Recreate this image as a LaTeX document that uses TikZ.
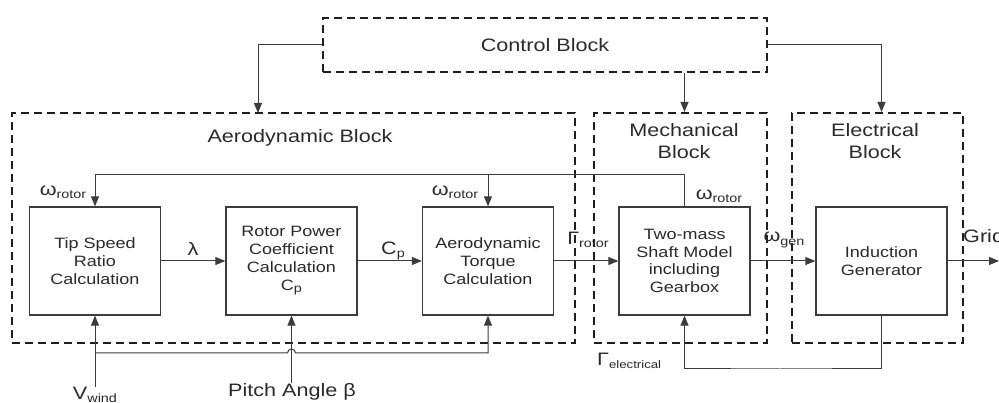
\documentclass[tikz,border=0pt]{standalone}
\usepackage{fontspec}
\setmainfont[FakeStretch=1.2]{Liberation Sans}
\usetikzlibrary{arrows.meta}
\definecolor{ln}{HTML}{3c3c3c}
\definecolor{tx}{HTML}{2a2a2a}
\newcommand{\lsub}[1]{\raisebox{-0.35ex}{\fontsize{12}{12}\selectfont #1}}
\tikzset{
 blk/.style={draw=black!88, line width=2.1pt, dash pattern=on 8pt off 5pt, inner sep=0pt},
 bx/.style={draw=ln, line width=1.3pt, minimum width=131pt, minimum height=108pt, inner sep=0pt, align=center, font=\fontsize{15}{17.7}\selectfont, text=tx},
 wire/.style={draw=ln, line width=1pt},
 arr/.style={wire, -{Triangle[length=10pt,width=8pt]}},
 ttl/.style={font=\fontsize{18}{21.7}\selectfont, text=tx, align=center, inner sep=0pt},
 lbl/.style={font=\fontsize{18}{20}\selectfont, text=tx, inner sep=0pt},
}
\begin{document}
\begin{tikzpicture}[x=1pt,y=-1pt]
\useasboundingbox (0,0) rectangle (999,403);
\clip (0,0) rectangle (999,403);
% dashed blocks
\node[blk, minimum width=444pt, minimum height=54pt] (cb) at (545,45) {};
\node[ttl] (cbt) at (545,45) {Control Block};
\node[blk, minimum width=563pt, minimum height=230pt] (ab) at (293.5,228) {};
\node[ttl] (abt) at (300,138) {Aerodynamic Block};
\node[blk, minimum width=173pt, minimum height=230pt] (mb) at (680.5,228) {};
\node[ttl] (mbt) at (684,141) {Mechanical\\Block};
\node[blk, minimum width=171pt, minimum height=230pt] (eb) at (877.5,228) {};
\node[ttl] (ebt) at (875,141) {Electrical\\Block};
% inner boxes
\node[bx] (tip) at (95,261) {Tip Speed\\Ratio\\Calculation};
\node[bx] (rpc) at (291.5,261) {Rotor Power\\Coefficient\\Calculation\\C\lsub{p}};
\node[bx] (atc) at (488,261) {Aerodynamic\\Torque\\Calculation};
\node[bx] (tms) at (684.5,261) {Two-mass\\Shaft Model\\including\\Gearbox};
\node[bx] (ind) at (881.5,261) {Induction\\Generator};
% control arrows
\coordinate (ain) at (258,113);
\draw[arr] (cb.west) -| (ain);
\draw[arr] (cb.south -| tms.north) -- (mb.north -| tms.north);
\draw[arr] (cb.east) -| (eb.north -| ind.north);
% forward chain
\draw[arr] (tip.east) -- (rpc.west);
\draw[arr] (rpc.east) -- (atc.west);
\draw[arr] (atc.east) -- (tms.west);
\draw[arr] (tms.east) -- (ind.west);
\coordinate (gridend) at (999,261);
\draw[arr] (ind.east) -- (gridend);
\node[lbl] (lam) at (193,249) {λ};
\node[lbl] (cp) at (393,251) {C\lsub{p}};
\node[lbl] (gro) at (588,240) {Γ\lsub{rotor}};
\node[lbl] (wg) at (784,240) {ω\lsub{gen}};
\node[lbl, anchor=base west] (grid) at (963,243) {Grid};
% omega rotor feedback
\coordinate (fbL) at (95,175);
\draw[arr] (tms.north) |- (fbL) -- (tip.north);
\draw[arr] (atc.north |- fbL) -- (atc.north);
\node[lbl] (w1) at (63,192) {ω\lsub{rotor}};
\node[lbl] (w2) at (455,192) {ω\lsub{rotor}};
\node[lbl] (w3) at (719,196) {ω\lsub{rotor}};
% bottom inputs
\node[lbl] (vw) at (95,395) {V\lsub{wind}};
\node[lbl] (pa) at (292,392) {Pitch Angle β};
\draw[arr] (vw.north) -- (tip.south);
\draw[arr] (pa.north -| rpc.south) -- (rpc.south);
\coordinate (hy) at (95,353);
\coordinate (hopL) at (287.5,353);
\draw[arr] (hy) -- (hopL) arc[start angle=180,end angle=0,radius=4pt] -- (atc.south |- hy) -- (atc.south);
% electrical torque feedback
\coordinate (gr) at (780,369);
\draw[arr] (ind.south) |- (gr) -| (tms.south);
\node[lbl, anchor=west] (ge) at (597,361) {Γ\lsub{\fontsize{11}{11}\selectfont electrical}};
\end{tikzpicture}
\end{document}
